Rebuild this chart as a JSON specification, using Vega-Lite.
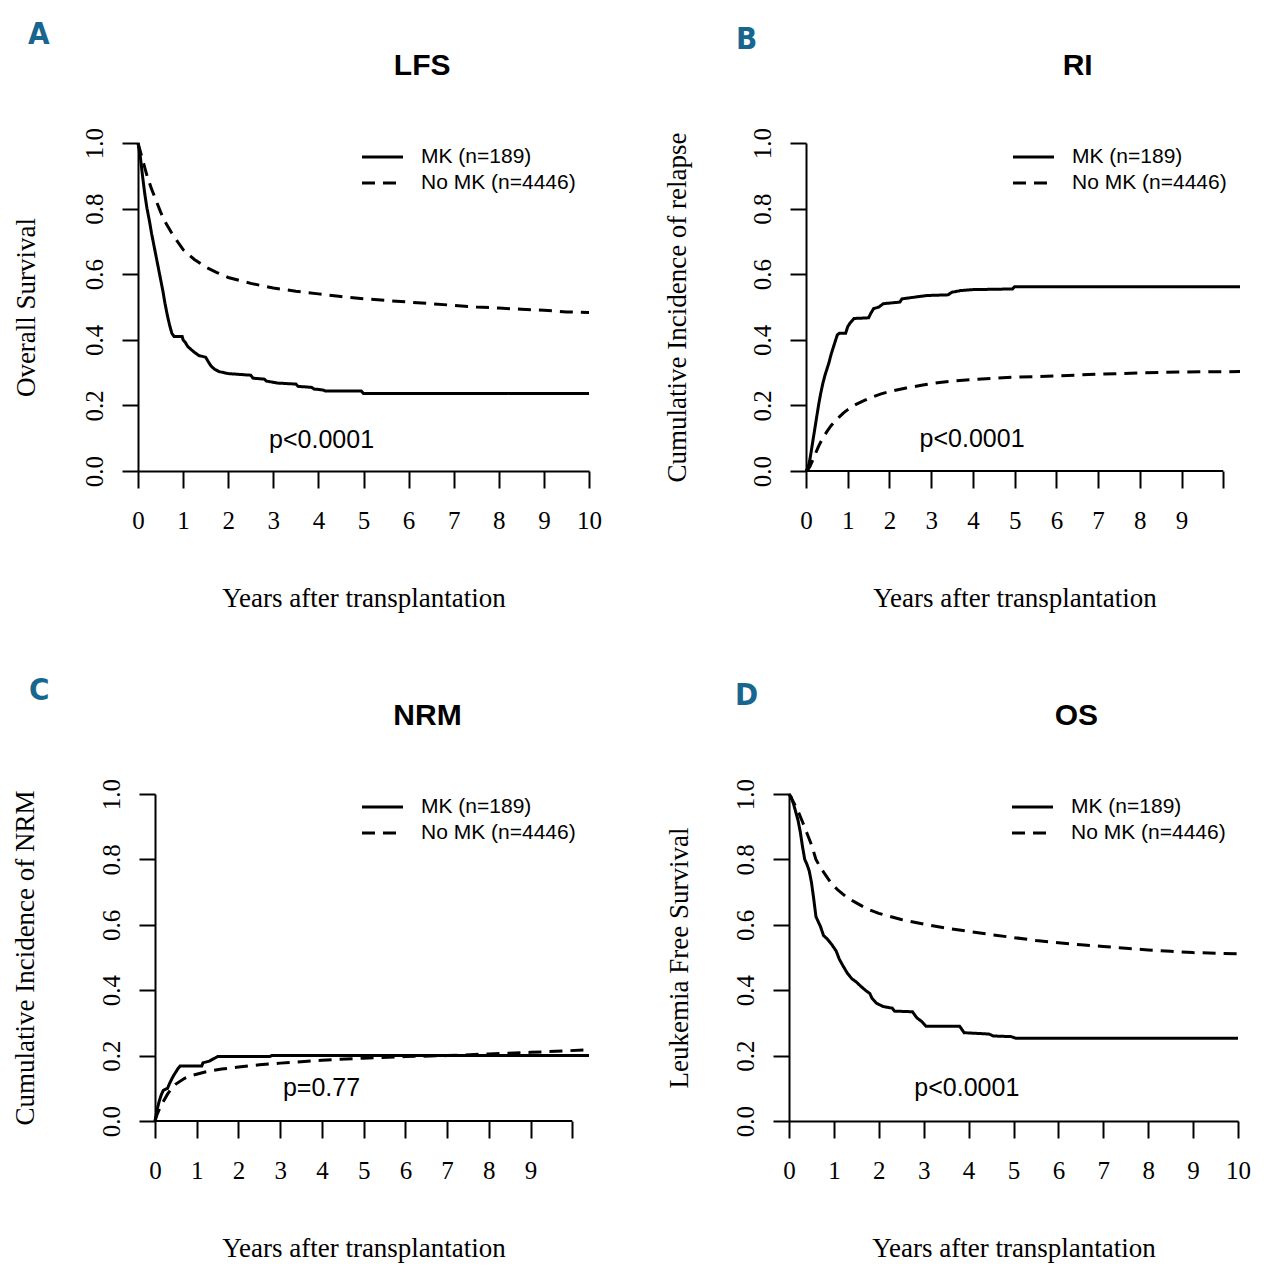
{
  "$schema": "https://vega.github.io/schema/vega-lite/v6.json",
  "background": "white",
  "padding": {"left": 11, "top": 19, "right": 2, "bottom": 2},
  "datasets": {
    "lfs": [
      {"group": "MK (n=189)", "years": 0, "value": 1},
      {"group": "MK (n=189)", "years": 0.05, "value": 0.96},
      {"group": "MK (n=189)", "years": 0.1, "value": 0.9},
      {"group": "MK (n=189)", "years": 0.15, "value": 0.845},
      {"group": "MK (n=189)", "years": 0.2, "value": 0.8},
      {"group": "MK (n=189)", "years": 0.25, "value": 0.765},
      {"group": "MK (n=189)", "years": 0.3, "value": 0.725},
      {"group": "MK (n=189)", "years": 0.35, "value": 0.69},
      {"group": "MK (n=189)", "years": 0.4, "value": 0.655},
      {"group": "MK (n=189)", "years": 0.45, "value": 0.62},
      {"group": "MK (n=189)", "years": 0.5, "value": 0.585},
      {"group": "MK (n=189)", "years": 0.55, "value": 0.55},
      {"group": "MK (n=189)", "years": 0.6, "value": 0.51},
      {"group": "MK (n=189)", "years": 0.65, "value": 0.475},
      {"group": "MK (n=189)", "years": 0.7, "value": 0.445},
      {"group": "MK (n=189)", "years": 0.75, "value": 0.42},
      {"group": "MK (n=189)", "years": 0.8, "value": 0.41},
      {"group": "MK (n=189)", "years": 0.98, "value": 0.41},
      {"group": "MK (n=189)", "years": 1.0, "value": 0.4},
      {"group": "MK (n=189)", "years": 1.05, "value": 0.392},
      {"group": "MK (n=189)", "years": 1.1, "value": 0.38},
      {"group": "MK (n=189)", "years": 1.18, "value": 0.37},
      {"group": "MK (n=189)", "years": 1.25, "value": 0.362},
      {"group": "MK (n=189)", "years": 1.35, "value": 0.352},
      {"group": "MK (n=189)", "years": 1.5, "value": 0.347},
      {"group": "MK (n=189)", "years": 1.55, "value": 0.335},
      {"group": "MK (n=189)", "years": 1.62, "value": 0.32},
      {"group": "MK (n=189)", "years": 1.7, "value": 0.31},
      {"group": "MK (n=189)", "years": 1.8, "value": 0.303},
      {"group": "MK (n=189)", "years": 2.0, "value": 0.297},
      {"group": "MK (n=189)", "years": 2.2, "value": 0.295},
      {"group": "MK (n=189)", "years": 2.5, "value": 0.292},
      {"group": "MK (n=189)", "years": 2.55, "value": 0.283},
      {"group": "MK (n=189)", "years": 2.8, "value": 0.28},
      {"group": "MK (n=189)", "years": 2.85, "value": 0.274},
      {"group": "MK (n=189)", "years": 3.1, "value": 0.268},
      {"group": "MK (n=189)", "years": 3.5, "value": 0.265},
      {"group": "MK (n=189)", "years": 3.55, "value": 0.258},
      {"group": "MK (n=189)", "years": 3.85, "value": 0.255},
      {"group": "MK (n=189)", "years": 3.9, "value": 0.25},
      {"group": "MK (n=189)", "years": 4.1, "value": 0.247},
      {"group": "MK (n=189)", "years": 4.15, "value": 0.244},
      {"group": "MK (n=189)", "years": 4.95, "value": 0.244},
      {"group": "MK (n=189)", "years": 5.0, "value": 0.236},
      {"group": "MK (n=189)", "years": 10, "value": 0.236},
      {"group": "No MK (n=4446)", "years": 0, "value": 1},
      {"group": "No MK (n=4446)", "years": 0.05, "value": 0.975},
      {"group": "No MK (n=4446)", "years": 0.1, "value": 0.95},
      {"group": "No MK (n=4446)", "years": 0.15, "value": 0.925},
      {"group": "No MK (n=4446)", "years": 0.2, "value": 0.9},
      {"group": "No MK (n=4446)", "years": 0.3, "value": 0.86},
      {"group": "No MK (n=4446)", "years": 0.4, "value": 0.825},
      {"group": "No MK (n=4446)", "years": 0.5, "value": 0.79},
      {"group": "No MK (n=4446)", "years": 0.6, "value": 0.76},
      {"group": "No MK (n=4446)", "years": 0.75, "value": 0.725},
      {"group": "No MK (n=4446)", "years": 0.9, "value": 0.695},
      {"group": "No MK (n=4446)", "years": 1.0, "value": 0.675},
      {"group": "No MK (n=4446)", "years": 1.25, "value": 0.645},
      {"group": "No MK (n=4446)", "years": 1.5, "value": 0.622},
      {"group": "No MK (n=4446)", "years": 1.75, "value": 0.605},
      {"group": "No MK (n=4446)", "years": 2.0, "value": 0.59},
      {"group": "No MK (n=4446)", "years": 2.5, "value": 0.572},
      {"group": "No MK (n=4446)", "years": 3.0, "value": 0.558},
      {"group": "No MK (n=4446)", "years": 3.5, "value": 0.548},
      {"group": "No MK (n=4446)", "years": 4.0, "value": 0.54},
      {"group": "No MK (n=4446)", "years": 4.5, "value": 0.532},
      {"group": "No MK (n=4446)", "years": 5.0, "value": 0.525},
      {"group": "No MK (n=4446)", "years": 5.5, "value": 0.52},
      {"group": "No MK (n=4446)", "years": 6.0, "value": 0.515},
      {"group": "No MK (n=4446)", "years": 6.5, "value": 0.51},
      {"group": "No MK (n=4446)", "years": 7.0, "value": 0.505},
      {"group": "No MK (n=4446)", "years": 7.5, "value": 0.5},
      {"group": "No MK (n=4446)", "years": 8.0, "value": 0.497},
      {"group": "No MK (n=4446)", "years": 8.5, "value": 0.493},
      {"group": "No MK (n=4446)", "years": 9.0, "value": 0.49},
      {"group": "No MK (n=4446)", "years": 9.5, "value": 0.485},
      {"group": "No MK (n=4446)", "years": 10, "value": 0.483}
    ],
    "ri": [
      {"group": "MK (n=189)", "years": 0, "value": 0},
      {"group": "MK (n=189)", "years": 0.05, "value": 0.01},
      {"group": "MK (n=189)", "years": 0.1, "value": 0.04},
      {"group": "MK (n=189)", "years": 0.15, "value": 0.08},
      {"group": "MK (n=189)", "years": 0.2, "value": 0.12},
      {"group": "MK (n=189)", "years": 0.25, "value": 0.16},
      {"group": "MK (n=189)", "years": 0.3, "value": 0.2},
      {"group": "MK (n=189)", "years": 0.35, "value": 0.235},
      {"group": "MK (n=189)", "years": 0.4, "value": 0.265},
      {"group": "MK (n=189)", "years": 0.45, "value": 0.29},
      {"group": "MK (n=189)", "years": 0.5, "value": 0.31},
      {"group": "MK (n=189)", "years": 0.55, "value": 0.33},
      {"group": "MK (n=189)", "years": 0.6, "value": 0.355},
      {"group": "MK (n=189)", "years": 0.65, "value": 0.375},
      {"group": "MK (n=189)", "years": 0.7, "value": 0.395},
      {"group": "MK (n=189)", "years": 0.75, "value": 0.415},
      {"group": "MK (n=189)", "years": 0.8, "value": 0.42},
      {"group": "MK (n=189)", "years": 0.95, "value": 0.42},
      {"group": "MK (n=189)", "years": 1.0, "value": 0.44},
      {"group": "MK (n=189)", "years": 1.05, "value": 0.45},
      {"group": "MK (n=189)", "years": 1.15, "value": 0.465},
      {"group": "MK (n=189)", "years": 1.5, "value": 0.467},
      {"group": "MK (n=189)", "years": 1.55, "value": 0.48},
      {"group": "MK (n=189)", "years": 1.62, "value": 0.495},
      {"group": "MK (n=189)", "years": 1.75, "value": 0.5},
      {"group": "MK (n=189)", "years": 1.85, "value": 0.51},
      {"group": "MK (n=189)", "years": 2.25, "value": 0.515},
      {"group": "MK (n=189)", "years": 2.3, "value": 0.525},
      {"group": "MK (n=189)", "years": 2.6, "value": 0.53},
      {"group": "MK (n=189)", "years": 2.9, "value": 0.535},
      {"group": "MK (n=189)", "years": 3.4, "value": 0.537},
      {"group": "MK (n=189)", "years": 3.5, "value": 0.545},
      {"group": "MK (n=189)", "years": 3.7, "value": 0.55},
      {"group": "MK (n=189)", "years": 4.0, "value": 0.553},
      {"group": "MK (n=189)", "years": 4.95, "value": 0.555},
      {"group": "MK (n=189)", "years": 5.0, "value": 0.562},
      {"group": "MK (n=189)", "years": 10.4, "value": 0.562},
      {"group": "No MK (n=4446)", "years": 0, "value": 0},
      {"group": "No MK (n=4446)", "years": 0.05, "value": 0.005},
      {"group": "No MK (n=4446)", "years": 0.1, "value": 0.015},
      {"group": "No MK (n=4446)", "years": 0.2, "value": 0.045},
      {"group": "No MK (n=4446)", "years": 0.3, "value": 0.075},
      {"group": "No MK (n=4446)", "years": 0.4, "value": 0.1},
      {"group": "No MK (n=4446)", "years": 0.5, "value": 0.12},
      {"group": "No MK (n=4446)", "years": 0.6, "value": 0.138},
      {"group": "No MK (n=4446)", "years": 0.7, "value": 0.152},
      {"group": "No MK (n=4446)", "years": 0.8, "value": 0.165},
      {"group": "No MK (n=4446)", "years": 0.9, "value": 0.177},
      {"group": "No MK (n=4446)", "years": 1.0, "value": 0.187},
      {"group": "No MK (n=4446)", "years": 1.2, "value": 0.203},
      {"group": "No MK (n=4446)", "years": 1.4, "value": 0.215},
      {"group": "No MK (n=4446)", "years": 1.6, "value": 0.226},
      {"group": "No MK (n=4446)", "years": 1.8, "value": 0.235},
      {"group": "No MK (n=4446)", "years": 2.0, "value": 0.242},
      {"group": "No MK (n=4446)", "years": 2.4, "value": 0.253},
      {"group": "No MK (n=4446)", "years": 2.8, "value": 0.262},
      {"group": "No MK (n=4446)", "years": 3.2, "value": 0.27},
      {"group": "No MK (n=4446)", "years": 3.6, "value": 0.275},
      {"group": "No MK (n=4446)", "years": 4.0, "value": 0.279},
      {"group": "No MK (n=4446)", "years": 4.5, "value": 0.283},
      {"group": "No MK (n=4446)", "years": 5.0, "value": 0.286},
      {"group": "No MK (n=4446)", "years": 6.0, "value": 0.29},
      {"group": "No MK (n=4446)", "years": 7.0, "value": 0.295},
      {"group": "No MK (n=4446)", "years": 8.0, "value": 0.299},
      {"group": "No MK (n=4446)", "years": 9.0, "value": 0.302},
      {"group": "No MK (n=4446)", "years": 10.4, "value": 0.303}
    ],
    "nrm": [
      {"group": "MK (n=189)", "years": 0, "value": 0},
      {"group": "MK (n=189)", "years": 0.03, "value": 0.02},
      {"group": "MK (n=189)", "years": 0.06, "value": 0.04},
      {"group": "MK (n=189)", "years": 0.1, "value": 0.06},
      {"group": "MK (n=189)", "years": 0.15, "value": 0.08},
      {"group": "MK (n=189)", "years": 0.2, "value": 0.094},
      {"group": "MK (n=189)", "years": 0.3, "value": 0.1},
      {"group": "MK (n=189)", "years": 0.35, "value": 0.115},
      {"group": "MK (n=189)", "years": 0.4, "value": 0.128},
      {"group": "MK (n=189)", "years": 0.45, "value": 0.14},
      {"group": "MK (n=189)", "years": 0.5, "value": 0.15},
      {"group": "MK (n=189)", "years": 0.55, "value": 0.16},
      {"group": "MK (n=189)", "years": 0.6, "value": 0.168},
      {"group": "MK (n=189)", "years": 1.12, "value": 0.168},
      {"group": "MK (n=189)", "years": 1.15, "value": 0.178},
      {"group": "MK (n=189)", "years": 1.3, "value": 0.183},
      {"group": "MK (n=189)", "years": 1.4, "value": 0.19},
      {"group": "MK (n=189)", "years": 1.5, "value": 0.197},
      {"group": "MK (n=189)", "years": 2.75, "value": 0.197},
      {"group": "MK (n=189)", "years": 2.8, "value": 0.2},
      {"group": "MK (n=189)", "years": 10.4, "value": 0.2},
      {"group": "No MK (n=4446)", "years": 0, "value": 0},
      {"group": "No MK (n=4446)", "years": 0.05, "value": 0.02},
      {"group": "No MK (n=4446)", "years": 0.1, "value": 0.035},
      {"group": "No MK (n=4446)", "years": 0.2, "value": 0.06},
      {"group": "No MK (n=4446)", "years": 0.3, "value": 0.082},
      {"group": "No MK (n=4446)", "years": 0.4, "value": 0.1},
      {"group": "No MK (n=4446)", "years": 0.5, "value": 0.113},
      {"group": "No MK (n=4446)", "years": 0.7, "value": 0.13},
      {"group": "No MK (n=4446)", "years": 0.9, "value": 0.14},
      {"group": "No MK (n=4446)", "years": 1.2, "value": 0.15},
      {"group": "No MK (n=4446)", "years": 1.6, "value": 0.159},
      {"group": "No MK (n=4446)", "years": 2.0, "value": 0.165},
      {"group": "No MK (n=4446)", "years": 2.5, "value": 0.172},
      {"group": "No MK (n=4446)", "years": 3.0, "value": 0.177},
      {"group": "No MK (n=4446)", "years": 4.0, "value": 0.186},
      {"group": "No MK (n=4446)", "years": 5.0, "value": 0.192},
      {"group": "No MK (n=4446)", "years": 6.0, "value": 0.197},
      {"group": "No MK (n=4446)", "years": 7.0, "value": 0.2},
      {"group": "No MK (n=4446)", "years": 8.0, "value": 0.205},
      {"group": "No MK (n=4446)", "years": 9.0, "value": 0.21},
      {"group": "No MK (n=4446)", "years": 9.6, "value": 0.213},
      {"group": "No MK (n=4446)", "years": 10.4, "value": 0.218}
    ],
    "os": [
      {"group": "MK (n=189)", "years": 0, "value": 1},
      {"group": "MK (n=189)", "years": 0.05, "value": 0.99},
      {"group": "MK (n=189)", "years": 0.1, "value": 0.97},
      {"group": "MK (n=189)", "years": 0.15, "value": 0.945},
      {"group": "MK (n=189)", "years": 0.2, "value": 0.92},
      {"group": "MK (n=189)", "years": 0.25, "value": 0.885},
      {"group": "MK (n=189)", "years": 0.3, "value": 0.84},
      {"group": "MK (n=189)", "years": 0.35, "value": 0.8},
      {"group": "MK (n=189)", "years": 0.4, "value": 0.785},
      {"group": "MK (n=189)", "years": 0.45, "value": 0.765},
      {"group": "MK (n=189)", "years": 0.5, "value": 0.73},
      {"group": "MK (n=189)", "years": 0.55, "value": 0.68},
      {"group": "MK (n=189)", "years": 0.6, "value": 0.625},
      {"group": "MK (n=189)", "years": 0.65, "value": 0.61},
      {"group": "MK (n=189)", "years": 0.7, "value": 0.595},
      {"group": "MK (n=189)", "years": 0.77, "value": 0.567},
      {"group": "MK (n=189)", "years": 0.85, "value": 0.557},
      {"group": "MK (n=189)", "years": 0.95, "value": 0.54},
      {"group": "MK (n=189)", "years": 1.05, "value": 0.52},
      {"group": "MK (n=189)", "years": 1.12, "value": 0.495},
      {"group": "MK (n=189)", "years": 1.2, "value": 0.475},
      {"group": "MK (n=189)", "years": 1.3, "value": 0.452},
      {"group": "MK (n=189)", "years": 1.4, "value": 0.435},
      {"group": "MK (n=189)", "years": 1.5, "value": 0.425},
      {"group": "MK (n=189)", "years": 1.6, "value": 0.412},
      {"group": "MK (n=189)", "years": 1.7, "value": 0.4},
      {"group": "MK (n=189)", "years": 1.8, "value": 0.39},
      {"group": "MK (n=189)", "years": 1.85, "value": 0.375},
      {"group": "MK (n=189)", "years": 1.95, "value": 0.36},
      {"group": "MK (n=189)", "years": 2.1, "value": 0.35},
      {"group": "MK (n=189)", "years": 2.3, "value": 0.345},
      {"group": "MK (n=189)", "years": 2.35, "value": 0.336},
      {"group": "MK (n=189)", "years": 2.75, "value": 0.334},
      {"group": "MK (n=189)", "years": 2.85, "value": 0.315},
      {"group": "MK (n=189)", "years": 2.95, "value": 0.305},
      {"group": "MK (n=189)", "years": 3.05, "value": 0.29},
      {"group": "MK (n=189)", "years": 3.8, "value": 0.29},
      {"group": "MK (n=189)", "years": 3.9, "value": 0.27},
      {"group": "MK (n=189)", "years": 4.45, "value": 0.266},
      {"group": "MK (n=189)", "years": 4.55, "value": 0.26},
      {"group": "MK (n=189)", "years": 4.95, "value": 0.258},
      {"group": "MK (n=189)", "years": 5.05, "value": 0.253},
      {"group": "MK (n=189)", "years": 10, "value": 0.253},
      {"group": "No MK (n=4446)", "years": 0, "value": 1},
      {"group": "No MK (n=4446)", "years": 0.1, "value": 0.975},
      {"group": "No MK (n=4446)", "years": 0.2, "value": 0.948},
      {"group": "No MK (n=4446)", "years": 0.3, "value": 0.915},
      {"group": "No MK (n=4446)", "years": 0.4, "value": 0.88},
      {"group": "No MK (n=4446)", "years": 0.5, "value": 0.845},
      {"group": "No MK (n=4446)", "years": 0.6, "value": 0.8},
      {"group": "No MK (n=4446)", "years": 0.7, "value": 0.775},
      {"group": "No MK (n=4446)", "years": 0.8, "value": 0.755},
      {"group": "No MK (n=4446)", "years": 0.95, "value": 0.725},
      {"group": "No MK (n=4446)", "years": 1.1, "value": 0.705},
      {"group": "No MK (n=4446)", "years": 1.3, "value": 0.683},
      {"group": "No MK (n=4446)", "years": 1.5, "value": 0.667},
      {"group": "No MK (n=4446)", "years": 1.75, "value": 0.648},
      {"group": "No MK (n=4446)", "years": 2.0, "value": 0.635},
      {"group": "No MK (n=4446)", "years": 2.5, "value": 0.616},
      {"group": "No MK (n=4446)", "years": 3.0, "value": 0.602},
      {"group": "No MK (n=4446)", "years": 3.5, "value": 0.59},
      {"group": "No MK (n=4446)", "years": 4.0, "value": 0.58},
      {"group": "No MK (n=4446)", "years": 4.5, "value": 0.57},
      {"group": "No MK (n=4446)", "years": 5.0, "value": 0.561},
      {"group": "No MK (n=4446)", "years": 5.5, "value": 0.552},
      {"group": "No MK (n=4446)", "years": 6.0, "value": 0.545},
      {"group": "No MK (n=4446)", "years": 6.5, "value": 0.539},
      {"group": "No MK (n=4446)", "years": 7.0, "value": 0.534},
      {"group": "No MK (n=4446)", "years": 7.5, "value": 0.528},
      {"group": "No MK (n=4446)", "years": 8.0, "value": 0.523},
      {"group": "No MK (n=4446)", "years": 8.5, "value": 0.519},
      {"group": "No MK (n=4446)", "years": 9.0, "value": 0.515},
      {"group": "No MK (n=4446)", "years": 9.5, "value": 0.513},
      {"group": "No MK (n=4446)", "years": 10, "value": 0.511}
    ]
  },
  "spacing": 64,
  "resolve": {"scale": {"strokeDash": "independent"}, "legend": {"strokeDash": "independent"}},
  "vconcat": [
    {
      "hconcat": [
        {
          "width": 451, "height": 328,
          "title": {"text": "A", "anchor": "start", "frame": "group", "dx": -110, "offset": 0},
          "layer": [
            {
              "data": {"name": "lfs"},
              "mark": {"type": "line", "color": "black", "strokeWidth": 3},
              "encoding": {
                "x": {"field": "years", "type": "quantitative", "scale": {"domain": [0, 10], "nice": false, "zero": false},
                      "axis": {"title": "Years after transplantation", "values": [0,1,2,3,4,5,6,7,8,9,10], "format": "d"}},
                "y": {"field": "value", "type": "quantitative", "scale": {"domain": [0, 1], "nice": false},
                      "axis": {"title": "Overall Survival", "values": [0,0.2,0.4,0.6,0.8,1], "format": ".1f", "titlePadding": 42}},
                "strokeDash": {"field": "group", "type": "nominal",
                      "scale": {"domain": ["MK (n=189)", "No MK (n=4446)"], "range": [[1,0],[13,8]]},
                      "legend": {"title": null, "orient": "none", "direction": "vertical", "legendX": 234, "legendY": 3.5,
                                 "symbolType": "M-4.1,0H4.1", "symbolSize": 100, "symbolStrokeWidth": 3, "symbolStrokeColor": "black", "symbolFillColor": "transparent",
                                 "labelFont": "Liberation Sans", "labelFontSize": 21, "labelColor": "black", "labelOffset": 28, "labelLimit": 300, "rowPadding": 4, "padding": 0}}
              }
            },
            {
              "data": {"values": [{"label": "p<0.0001"}]},
              "mark": {"type": "text", "font": "Liberation Sans", "fontSize": 25, "align": "center", "baseline": "alphabetic", "color": "black"},
              "encoding": {"x": {"datum": 4.07}, "y": {"datum": 0.07}, "text": {"field": "label"}}
            },
            {
              "data": {"values": [{"label": "LFS"}]},
              "mark": {"type": "text", "font": "Liberation Sans", "fontSize": 30, "fontWeight": "bold", "align": "center", "baseline": "alphabetic", "color": "black"},
              "encoding": {"x": {"datum": 6.3}, "y": {"datum": 1.207}, "text": {"field": "label"}}
            }
          ]
        },
        {
          "width": 434, "height": 328,
          "title": {"text": "B", "anchor": "start", "frame": "group", "dx": -70, "offset": -5},
          "layer": [
            {
              "data": {"values": [{}]},
              "mark": {"type": "rule", "color": "black", "strokeWidth": 2},
              "encoding": {"x": {"datum": 0}, "x2": {"datum": 10}, "y": {"datum": 0}}
            },
            {
              "data": {"name": "ri"},
              "mark": {"type": "line", "color": "black", "strokeWidth": 3},
              "encoding": {
                "x": {"field": "years", "type": "quantitative", "scale": {"domain": [0, 10.4], "nice": false, "zero": false},
                      "axis": {"title": "Years after transplantation", "values": [0,1,2,3,4,5,6,7,8,9,10], "format": "d", "domain": false,
                               "labelExpr": "datum.value == 10 ? '' : datum.label", "titleX": 208.5}},
                "y": {"field": "value", "type": "quantitative", "scale": {"domain": [0, 1], "nice": false},
                      "axis": {"title": "Cumulative Incidence of relapse", "values": [0,0.2,0.4,0.6,0.8,1], "format": ".1f", "titlePadding": 59}},
                "strokeDash": {"field": "group", "type": "nominal",
                      "scale": {"domain": ["MK (n=189)", "No MK (n=4446)"], "range": [[1,0],[13,8]]},
                      "legend": {"title": null, "orient": "none", "direction": "vertical", "legendX": 217, "legendY": 3.5,
                                 "symbolType": "M-4.1,0H4.1", "symbolSize": 100, "symbolStrokeWidth": 3, "symbolStrokeColor": "black", "symbolFillColor": "transparent",
                                 "labelFont": "Liberation Sans", "labelFontSize": 21, "labelColor": "black", "labelOffset": 28, "labelLimit": 300, "rowPadding": 4, "padding": 0}}
              }
            },
            {
              "data": {"values": [{"label": "p<0.0001"}]},
              "mark": {"type": "text", "font": "Liberation Sans", "fontSize": 25, "align": "center", "baseline": "alphabetic", "color": "black"},
              "encoding": {"x": {"datum": 3.98}, "y": {"datum": 0.072}, "text": {"field": "label"}}
            },
            {
              "data": {"values": [{"label": "RI"}]},
              "mark": {"type": "text", "font": "Liberation Sans", "fontSize": 30, "fontWeight": "bold", "align": "center", "baseline": "alphabetic", "color": "black"},
              "encoding": {"x": {"datum": 6.51}, "y": {"datum": 1.207}, "text": {"field": "label"}}
            }
          ]
        }
      ],
      "bounds": "flush",
      "spacing": 217,
      "resolve": {"scale": {"strokeDash": "independent"}, "legend": {"strokeDash": "independent"}}
    },
    {
      "hconcat": [
        {
          "hconcat": [
            {
              "width": 17, "height": 10,
              "data": {"values": []},
              "mark": {"type": "point", "opacity": 0},
              "encoding": {}
            },
            {
              "width": 434, "height": 327,
              "title": {"text": "C", "anchor": "start", "frame": "group", "dx": -126, "offset": -6},
              "layer": [
                {
                  "data": {"values": [{}]},
                  "mark": {"type": "rule", "color": "black", "strokeWidth": 2},
                  "encoding": {"x": {"datum": 0}, "x2": {"datum": 10}, "y": {"datum": 0}}
                },
                {
                  "data": {"name": "nrm"},
                  "mark": {"type": "line", "color": "black", "strokeWidth": 3},
                  "encoding": {
                    "x": {"field": "years", "type": "quantitative", "scale": {"domain": [0, 10.4], "nice": false, "zero": false},
                          "axis": {"title": "Years after transplantation", "values": [0,1,2,3,4,5,6,7,8,9,10], "format": "d", "domain": false,
                                   "labelExpr": "datum.value == 10 ? '' : datum.label", "titleX": 208.5}},
                    "y": {"field": "value", "type": "quantitative", "scale": {"domain": [0, 1], "nice": false},
                          "axis": {"title": "Cumulative Incidence of NRM", "values": [0,0.2,0.4,0.6,0.8,1], "format": ".1f", "titlePadding": 60}},
                    "strokeDash": {"field": "group", "type": "nominal",
                          "scale": {"domain": ["MK (n=189)", "No MK (n=4446)"], "range": [[1,0],[13,8]]},
                          "legend": {"title": null, "orient": "none", "direction": "vertical", "legendX": 217, "legendY": 2.5,
                                     "symbolType": "M-4.1,0H4.1", "symbolSize": 100, "symbolStrokeWidth": 3, "symbolStrokeColor": "black", "symbolFillColor": "transparent",
                                     "labelFont": "Liberation Sans", "labelFontSize": 21, "labelColor": "black", "labelOffset": 28, "labelLimit": 300, "rowPadding": 4, "padding": 0}}
                  }
                },
                {
                  "data": {"values": [{"label": "p=0.77"}]},
                  "mark": {"type": "text", "font": "Liberation Sans", "fontSize": 25, "align": "center", "baseline": "alphabetic", "color": "black"},
                  "encoding": {"x": {"datum": 3.99}, "y": {"datum": 0.075}, "text": {"field": "label"}}
                },
                {
                  "data": {"values": [{"label": "NRM"}]},
                  "mark": {"type": "text", "font": "Liberation Sans", "fontSize": 30, "fontWeight": "bold", "align": "center", "baseline": "alphabetic", "color": "black"},
                  "encoding": {"x": {"datum": 6.53}, "y": {"datum": 1.211}, "text": {"field": "label"}}
                }
              ]
            }
          ],
          "bounds": "flush",
          "spacing": 0,
          "resolve": {"scale": {"strokeDash": "independent"}, "legend": {"strokeDash": "independent"}}
        },
        {
          "width": 449, "height": 327,
          "title": {"text": "D", "anchor": "start", "frame": "group", "dx": -54, "offset": -11},
          "layer": [
            {
              "data": {"name": "os"},
              "mark": {"type": "line", "color": "black", "strokeWidth": 3},
              "encoding": {
                "x": {"field": "years", "type": "quantitative", "scale": {"domain": [0, 10], "nice": false, "zero": false},
                      "axis": {"title": "Years after transplantation", "values": [0,1,2,3,4,5,6,7,8,9,10], "format": "d"}},
                "y": {"field": "value", "type": "quantitative", "scale": {"domain": [0, 1], "nice": false},
                      "axis": {"title": "Leukemia Free Survival", "values": [0,0.2,0.4,0.6,0.8,1], "format": ".1f", "titlePadding": 40}},
                "strokeDash": {"field": "group", "type": "nominal",
                      "scale": {"domain": ["MK (n=189)", "No MK (n=4446)"], "range": [[1,0],[13,8]]},
                      "legend": {"title": null, "orient": "none", "direction": "vertical", "legendX": 233, "legendY": 2.5,
                                 "symbolType": "M-4.1,0H4.1", "symbolSize": 100, "symbolStrokeWidth": 3, "symbolStrokeColor": "black", "symbolFillColor": "transparent",
                                 "labelFont": "Liberation Sans", "labelFontSize": 21, "labelColor": "black", "labelOffset": 28, "labelLimit": 300, "rowPadding": 4, "padding": 0}}
              }
            },
            {
              "data": {"values": [{"label": "p<0.0001"}]},
              "mark": {"type": "text", "font": "Liberation Sans", "fontSize": 25, "align": "center", "baseline": "alphabetic", "color": "black"},
              "encoding": {"x": {"datum": 3.96}, "y": {"datum": 0.075}, "text": {"field": "label"}}
            },
            {
              "data": {"values": [{"label": "OS"}]},
              "mark": {"type": "text", "font": "Liberation Sans", "fontSize": 30, "fontWeight": "bold", "align": "center", "baseline": "alphabetic", "color": "black"},
              "encoding": {"x": {"datum": 6.4}, "y": {"datum": 1.211}, "text": {"field": "label"}}
            }
          ]
        }
      ],
      "spacing": 70,
      "resolve": {"scale": {"strokeDash": "independent"}, "legend": {"strokeDash": "independent"}}
    }
  ],
  "config": {
    "view": {"stroke": null},
    "font": "Liberation Sans",
    "axis": {
      "domainColor": "black", "domainWidth": 2, "tickColor": "black", "tickWidth": 2,
      "labelColor": "black", "titleColor": "black",
      "labelFont": "Liberation Serif", "titleFont": "Liberation Serif",
      "labelFontSize": 25, "titleFontSize": 27, "titleFontWeight": "normal",
      "grid": false, "labelFlush": false, "labelOverlap": false
    },
    "axisX": {"tickSize": 17, "labelPadding": 20, "titlePadding": 52, "labelFont": "Liberation Serif"},
    "axisY": {"tickSize": 16, "labelPadding": 20, "labelAngle": 270, "labelAlign": "center", "labelBaseline": "alphabetic", "labelFont": "Liberation Serif"},
    "title": {
      "anchor": "start", "frame": "group", "baseline": "alphabetic",
      "font": "Liberation Sans Narrow, Arial Narrow, DejaVu Sans Condensed, Liberation Sans, sans-serif",
      "fontSize": 31, "fontWeight": "bold", "color": "#17668f"
    }
  }
}
